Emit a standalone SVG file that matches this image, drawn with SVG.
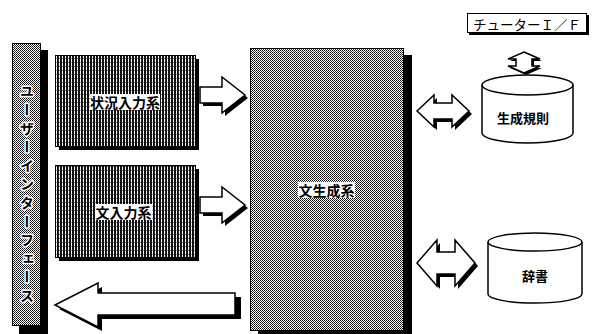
<svg xmlns="http://www.w3.org/2000/svg" width="606" height="334" viewBox="0 0 606 334">
<defs>
<pattern id="dots" width="2" height="2" patternUnits="userSpaceOnUse">
<rect width="2" height="2" fill="#fff"/>
<rect x="0" y="0" width="1" height="1" fill="#000"/>
<rect x="1" y="1" width="1" height="1" fill="#333"/>
</pattern>
<pattern id="stripes" width="3" height="4" patternUnits="userSpaceOnUse">
<rect width="3" height="4" fill="#fff"/>
<rect x="0" y="0" width="2" height="4" fill="#111"/>
<rect x="2" y="2" width="1" height="1" fill="#888"/>
</pattern>
</defs>
<style>
.shadow{fill:#000}
.box{stroke:#000;stroke-width:1}
.lbl{font-family:"Noto Sans CJK JP","Noto Sans CJK SC",sans-serif;font-weight:bold;font-size:14px;fill:#000;text-anchor:middle;dominant-baseline:central}
.arrow{fill:#fff;stroke:#000;stroke-width:1.5;stroke-linejoin:miter}
.ashadow{fill:#000}
.cyl{fill:#fff;stroke:#000;stroke-width:1.5}
</style>
<rect width="606" height="334" fill="#fff"/>

<g id="ui">
<rect class="shadow" x="19" y="50" width="29" height="284"/>
<rect class="box" x="12.5" y="43.5" width="28" height="282" fill="url(#dots)"/>
<text x="27" y="84" style="font-family:'Noto Sans CJK JP',sans-serif;font-weight:bold;font-size:14px;writing-mode:vertical-rl;letter-spacing:4.6px;fill:#000;stroke:#fff;stroke-width:3px;paint-order:stroke;stroke-linejoin:round">ユーザーインターフェース</text>
</g>

<g id="jokyo">
<rect class="shadow" x="59" y="59" width="140" height="91"/>
<rect class="box" x="55.5" y="55.5" width="140" height="91" fill="url(#stripes)"/>
<rect x="90" y="94" width="70" height="16" fill="#fff"/>
<text class="lbl" x="125" y="102">状況入力系</text>
</g>

<g id="bun">
<rect class="shadow" x="59" y="169" width="140" height="92"/>
<rect class="box" x="55.5" y="165.5" width="140" height="92" fill="url(#stripes)"/>
<rect x="95" y="204" width="57" height="16" fill="#fff"/>
<text class="lbl" x="123.5" y="212">文入力系</text>
</g>

<g id="seisei">
<rect class="shadow" x="258" y="55" width="154" height="279"/>
<rect class="box" x="250.5" y="48.5" width="153" height="282" fill="url(#dots)"/>
<rect x="298" y="182" width="57" height="16" fill="#fff"/>
<text class="lbl" x="326.5" y="190">文生成系</text>
</g>

<g id="tutor">
<rect class="shadow" x="469" y="15" width="120" height="20"/>
<rect class="box" x="467.5" y="13.5" width="119" height="19" fill="#fff"/>
<text x="527" y="23.5" style="font-family:'Noto Sans CJK JP',serif;font-size:13.5px;fill:#000;text-anchor:middle;dominant-baseline:central">チューターＩ／Ｆ</text>
</g>

<g id="rules">
<path class="cyl" d="M482,85 L482,133 A45.5,10 0 0 0 573,133 L573,85"/>
<ellipse class="cyl" cx="527.5" cy="85" rx="45.5" ry="10"/>
<text class="lbl" x="523" y="117" style="font-size:13px">生成規則</text>
</g>

<g id="dict">
<path class="cyl" d="M488,242 L488,294 A47,9 0 0 0 582,294 L582,242"/>
<ellipse class="cyl" cx="535" cy="242" rx="47" ry="9"/>
<text class="lbl" x="535" y="275" style="font-size:13px">辞書</text>
</g>

<g id="connectors">
<path class="ashadow" d="M203,90 L225,90 L225,80 L248,98 L225,116 L225,106 L203,106 Z"/>
<path class="arrow" d="M200,87 L222,87 L222,77 L245,95 L222,113 L222,103 L200,103 Z"/>
<path class="ashadow" d="M203,200 L225,200 L225,190 L248,208 L225,226 L225,216 L203,216 Z"/>
<path class="arrow" d="M200,197 L222,197 L222,187 L245,205 L222,223 L222,213 L200,213 Z"/>
<path class="ashadow" d="M59,309 L102,287 L102,297 L241,297 L241,319 L102,319 L102,331 Z"/>
<path class="arrow" d="M55,305 L98,283 L98,293 L235,293 L235,315 L98,315 L98,327 Z"/>
<path class="ashadow" d="M420,114 L437,98 L437,106 L455,106 L455,98 L472,114 L455,130 L455,122 L437,122 L437,130 Z"/>
<path class="arrow" d="M417,111 L434,95 L434,103 L452,103 L452,95 L469,111 L452,127 L452,119 L434,119 L434,127 Z"/>
<path class="ashadow" d="M420,266 L440,243 L440,255 L458,255 L458,243 L478,266 L458,289 L458,277 L440,277 L440,289 Z"/>
<path class="arrow" d="M417,263 L437,240 L437,252 L455,252 L455,240 L475,263 L455,286 L455,274 L437,274 L437,286 Z"/>
<path class="ashadow" d="M526,54 L542,61 L534,61 L534,68 L542,68 L526,75 L510,68 L518,68 L518,61 L510,61 Z"/>
<path class="arrow" d="M524,52 L540,59 L532,59 L532,66 L540,66 L524,73 L508,66 L516,66 L516,59 L508,59 Z"/>
</g>
</svg>
